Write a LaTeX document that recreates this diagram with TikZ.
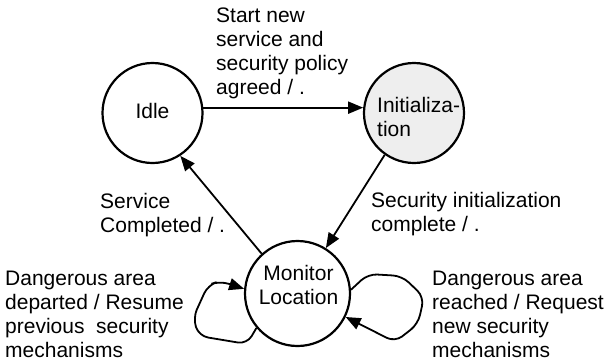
\documentclass[tikz,border=0pt]{standalone}
\usepackage{fontspec}
\setmainfont{Liberation Sans}
\usetikzlibrary{arrows.meta}
\newcommand\lblfont{\fontsize{21}{24}\selectfont}
\begin{document}
\begin{tikzpicture}[x=1pt,y=-1pt,
  state/.style={circle,draw,line width=2.2pt,minimum size=100pt,inner sep=0pt},
  txt/.style={inner sep=0pt,align=left,font=\lblfont},
  lbl/.style={txt,anchor=north west},
  tr/.style={line width=1.8pt,-{Triangle[length=15pt,width=12pt]}},
  loop/.style={tr,rounded corners=9pt}
]
\useasboundingbox (0,0) rectangle (608,362);
% states
\node[state,fill=white] (idle) at (152.5,113) {};
\node[state,fill=gray!13] (init) at (414,113) {};
\node[state,fill=white,minimum size=105pt] (mon) at (297.5,293.5) {};
\node[txt,anchor=base] (idlet) at (152.5,118) {Idle};
\node[lbl] (initt) at (377,97) {Initializa-\\tion};
\node[txt,align=center] (mont) at (298.5,285) {Monitor\\Location};
% transitions
\draw[tr] (idle.6) -- (init.174);
\draw[tr] (init.235) -- (mon.58);
\draw[tr] (mon.132) -- (idle.303);
\draw[loop] (mon.220) -- (247,344) -- (199,336) -- (193,318) -- (208,285) -- (220,281) -- (mon.175);
\draw[loop] (mon.4) -- (368,274) -- (402,276) -- (424,297) -- (418,324) -- (395,342) -- (mon.334);
% labels
\node[lbl] (l1) at (216,8) {Start new\\service and\\security policy\\agreed / .};
\node[lbl] (l2) at (100,193) {Service\\Completed / .};
\node[lbl] (l3) at (371,192) {Security initialization\\complete / .};
\node[lbl] (l4) at (5,271) {Dangerous area\\departed / Resume\\previous\ \ security\\mechanisms};
\node[lbl] (l5) at (432,271) {Dangerous area\\reached / Request\\new security\\mechanisms};
\end{tikzpicture}
\end{document}
